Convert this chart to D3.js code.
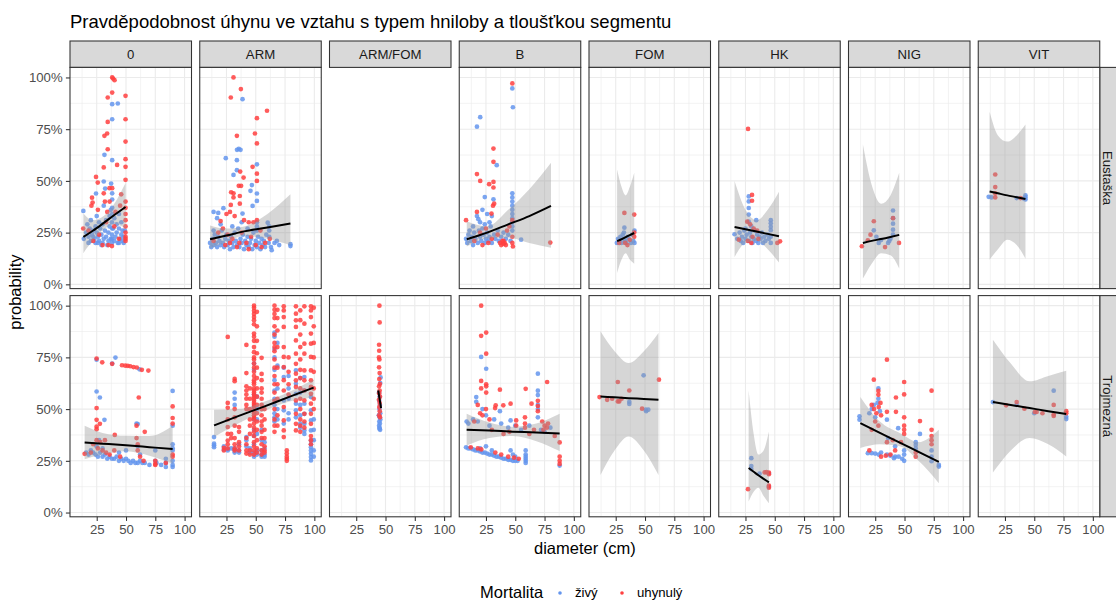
<!DOCTYPE html>
<html><head><meta charset="utf-8">
<script src="https://cdn.jsdelivr.net/npm/d3@7"></script>
<style>body{margin:0;background:#fff} text{font-family:"Liberation Sans",Arial,sans-serif}</style>
</head><body><svg id="c" width="1116" height="602"></svg>
<script>
const rows = ["Eustaška","Trojmezná"];
const cols = ["0","ARM","ARM/FOM","B","FOM","HK","NIG","VIT"];
const xTicks = [25,50,75,100];
const xMinor = [12.5,37.5,62.5,87.5];
const yTicks = [0,0.25,0.5,0.75,1];
const yTickLabels = ["0%","25%","50%","75%","100%"];
const yMinor = [0.125,0.375,0.625,0.875];
const legendTitle = "Mortalita";
const legendLabels = ["živý","uhynulý"];
const titleText = "Pravděpodobnost úhynu ve vztahu s typem hniloby a tloušťkou segmentu";
const xTitle = "diameter (cm)";
const yTitle = "probability";

// ---- Eustaška ----
const E0_z = [[38.2,.871],[43,.874],[38.2,.798],[31.6,.626],[38.2,.6],[31,.497],[37.3,.487],[32.2,.463],[24.4,.439],[38.2,.44],[13.6,.355],[31,.38],[38.2,.41],[37,.36],[25,.33],[14,.22],[16,.25],[18,.23],[19,.27],[20,.21],[21,.24],[22,.26],[23,.22],[24,.2],[25,.25],[26,.23],[27,.21],[28,.27],[29,.24],[30,.2],[31,.22],[32,.26],[33,.23],[34,.19],[35,.25],[36,.28],[37,.22],[38,.2],[38,.24],[38,.3],[39,.27],[40,.21],[41,.23],[42,.25],[43,.2],[44,.27],[45,.22],[46,.24],[47,.21],[48,.23],[49,.26],[17,.29],[20,.31],[27,.3],[33,.31],[36,.33],[40,.32],[42,.29],[44,.34],[46,.3],[48,.2],[18,.2],[24,.28],[30,.29],[38.2,.34],[38.2,.37],[38.2,.27],[38.2,.22],[35,.21],[29,.19],[26,.2],[22,.23],[44,.2],[47,.26]];
const E0_u = [[38.2,1],[40.2,.987],[39,.995],[49.6,.911],[38.2,.927],[34.4,.903],[49.6,.798],[34.4,.785],[31.6,.718],[33.9,.729],[49.6,.69],[34.4,.653],[49.6,.605],[42.4,.577],[31,.565],[49.6,.568],[49.6,.505],[24.4,.519],[25.9,.492],[35.9,.465],[38.2,.465],[45.9,.435],[31,.44],[21,.419],[21.5,.395],[20.5,.38],[13.5,.27],[26,.36],[32,.4],[36,.4],[34,.35],[45,.38],[49.6,.4],[49.6,.37],[49.6,.34],[49.6,.31],[49.6,.28],[49.6,.25],[49.6,.23],[49.6,.21],[49.6,.22],[30,.19],[35,.19],[38,.185],[22,.21],[27,.24],[33,.3],[40,.28],[44,.22],[18,.26],[41,.35]];
const E0_s = [[13.6,.229,.15,.343],[22,.26,.215,.31],[31,.297,.265,.33],[40,.335,.29,.39],[49.6,.374,.27,.49]];

const EARM_z = [[38.7,.895],[34,.65],[35.5,.655],[37,.65],[24.4,.61],[33.9,.6],[51,.58],[33.9,.552],[31,.529],[46.7,.48],[45.5,.452],[51,.439],[51,.403],[47.3,.379],[22.4,.368],[14,.35],[18,.345],[38.7,.342],[60.2,.298],[79.6,.194],[79.6,.185],[63.6,.165],[66,.2],[70,.19],[68,.21],[11,.2],[12,.18],[13,.22],[14,.19],[15,.24],[16,.2],[17,.18],[18,.23],[19,.21],[20,.19],[21,.26],[22,.2],[23,.18],[24,.22],[25,.24],[26,.19],[27,.21],[28,.17],[29,.23],[30,.2],[31,.18],[32,.25],[33,.21],[34,.19],[35,.27],[36,.18],[37,.22],[38,.2],[39,.24],[40,.17],[41,.21],[42,.19],[43,.23],[44,.18],[45,.2],[46,.22],[47,.17],[48,.25],[49,.19],[50,.21],[51,.18],[52,.23],[53,.2],[54,.17],[55,.22],[56,.19],[57,.21],[58,.18],[59,.24],[61,.2],[63,.18],[51,.28],[51,.26],[51,.3],[38,.3],[30,.28],[20,.29],[43,.27],[14,.26],[17,.32],[61.5,.26],[61.5,.28],[61.5,.23]];
const EARM_u = [[31,1],[37.3,.944],[28.7,.903],[59.6,.839],[51,.803],[49.3,.729],[51,.681],[33.9,.718],[47.3,.568],[36.7,.545],[51,.535],[39.6,.516],[51,.5],[35.5,.476],[37.5,.476],[31,.44],[29,.445],[36.4,.427],[31,.42],[36.4,.39],[28.7,.384],[28,.35],[25,.34],[20,.306],[44,.3],[51,.31],[32,.33],[40,.31],[22,.27],[26,.24],[30,.22],[34,.18],[38,.25],[42,.2],[46,.23],[50,.19],[54,.26],[58,.2],[62,.22],[24,.19],[18,.25],[14,.21],[36,.2],[44,.17],[48,.3],[55,.18],[28,.2]];
const EARM_s = [[11,.218,.174,.285],[25,.236,.205,.27],[40,.256,.235,.28],[60,.275,.22,.34],[79.6,.294,.189,.435]];

const EB_z = [[47.5,.947],[48,.856],[20.1,.808],[17.3,.762],[34.2,.576],[24,.422],[31.4,.411],[47.5,.44],[47.5,.42],[47.5,.4],[47.5,.38],[47.5,.36],[47.5,.34],[47.5,.32],[47.5,.3],[47.5,.28],[47.5,.26],[17.3,.33],[18.5,.315],[55,.216],[8,.22],[9,.2],[10,.24],[12,.21],[13,.23],[14,.19],[15,.25],[16,.22],[18,.2],[19,.26],[20,.23],[21,.21],[22,.27],[23,.24],[24,.2],[25,.22],[26,.25],[27,.21],[28,.23],[29,.28],[30,.2],[32,.24],[33,.22],[35,.26],[36,.21],[38,.23],[40,.25],[42,.22],[44,.24],[46,.21],[20,.3],[24,.29],[28,.3],[14,.28],[11,.26],[26,.34],[30,.33],[22,.36]];
const EB_u = [[47.5,.971],[31.4,.656],[31.4,.592],[17.3,.533],[20.1,.5],[27.7,.484],[31.4,.495],[31.4,.468],[31,.38],[32,.39],[29.7,.342],[8,.31],[17.3,.35],[79.9,.202],[48,.183],[37,.2],[38,.19],[39,.21],[40,.195],[41,.2],[42,.19],[40,.21],[20,.25],[25,.27],[30,.22],[35,.24],[45,.28],[47.5,.31],[47.5,.23],[15,.21],[22,.19],[43,.26],[27,.2],[47.5,.2]];
const EB_s = [[8.6,.218,.183,.305],[26,.25,.222,.28],[44,.29,.225,.36],[62,.33,.2,.46],[80.5,.379,.177,.588]];

const EFOM_z = [[32.4,.274],[26,.2],[27,.22],[28,.21],[29,.23],[30,.2],[31,.24],[32,.22],[33,.21],[34,.2],[35,.23],[36,.22],[38,.2],[39,.24],[40,.21],[41,.2],[32,.25],[41,.26]];
const EFOM_u = [[32.4,.345],[40.8,.337],[28,.2],[33,.2],[37,.215],[40.8,.23],[40.8,.25],[35,.19]];
const EFOM_s = [[26.2,.209,.055,.555],[30,.218,.12,.47],[33.5,.228,.15,.43],[37,.238,.12,.47],[40.8,.248,.1,.539]];

const EHK_z = [[27.8,.425],[27.8,.401],[27.8,.369],[27.8,.337],[27.8,.303],[34.2,.31],[46.6,.31],[46.6,.295],[46.6,.278],[46.6,.262],[15.7,.242],[18,.22],[20,.25],[21,.21],[22,.23],[23,.2],[24,.26],[25,.22],[26,.24],[28,.21],[29,.25],[30,.23],[31,.2],[32,.22],[33,.26],[34,.21],[35,.24],[36,.2],[37,.23],[38,.22],[39,.25],[40,.2],[41,.23],[42,.21],[44,.24],[45,.22],[46.6,.2],[46.6,.23],[30,.28],[25,.27]];
const EHK_u = [[27.2,.751],[30.6,.432],[30.6,.404],[26.5,.303],[29,.29],[32,.27],[52.2,.2],[54.5,.208],[19.4,.216],[27,.21],[30,.2],[35,.26],[36,.22],[31,.23]];
const EHK_s = [[15.7,.277,.132,.5],[25,.266,.2,.36],[34.5,.255,.21,.31],[44,.244,.17,.36],[53.6,.232,.105,.447]];

const ENIG_z = [[23.8,.261],[28,.2],[30,.214],[36,.2],[40.2,.357],[40.2,.32],[40.2,.293],[40.2,.264],[40.2,.241],[37,.21],[38,.22],[26,.23]];
const ENIG_u = [[13.6,.184],[18.7,.213],[23.8,.305],[33.4,.18],[40.2,.32],[45.3,.2],[21,.24]];
const ENIG_s = [[14.5,.2,.028,.676],[22,.21,.1,.48],[30,.219,.15,.39],[38,.229,.14,.43],[45.5,.239,.076,.539]];

const EVIT_z = [[11.1,.423],[13.5,.42],[35,.417],[42.5,.43],[42.5,.42],[42.5,.41],[41,.415]];
const EVIT_u = [[16.7,.531],[16.7,.47],[16.7,.44],[16.7,.42],[38.3,.417]];
const EVIT_s = [[11.9,.449,.119,.834],[19,.44,.17,.72],[27,.43,.216,.69],[35,.421,.19,.72],[42.5,.412,.124,.772]];

// ---- Trojmezná ----
const T0_z = [[24.9,.739],[41,.749],[38.2,.72],[61.5,.692],[24.9,.585],[27.7,.556],[31.6,.448],[59,.43],[60,.428],[89.8,.588],[89.8,.42],[89.8,.311],[89.8,.33],[89.8,.3],[16,.29],[18,.28],[20,.3],[22,.29],[24,.28],[26,.27],[28,.29],[30,.27],[32,.28],[34,.26],[36,.27],[38,.26],[40,.26],[42,.27],[44,.25],[46,.26],[48,.25],[50,.26],[52,.25],[54,.24],[56,.25],[58,.24],[60,.24],[62,.25],[64,.24],[66,.24],[70,.23],[75,.25],[76,.24],[80,.23],[84,.22],[84,.24],[89.8,.23],[89.8,.22],[89.8,.25],[24.9,.32],[27,.35],[30,.31],[60,.32],[62,.28],[75,.3],[84,.26],[50,.3],[44,.29]];
const T0_u = [[14.7,.284],[24.9,.744],[29.7,.726],[38.2,.719],[46.6,.712],[49.4,.71],[51.5,.709],[53.6,.707],[56.4,.703],[59.2,.701],[63.5,.69],[69.1,.686],[24.9,.505],[24.9,.448],[24.9,.415],[24.9,.403],[27.7,.429],[40.4,.375],[60.9,.556],[59,.42],[66,.39],[89.8,.513],[89.8,.457],[89.8,.43],[89.8,.28],[89.8,.27],[22,.33],[24.9,.35],[26,.31],[28,.34],[30,.3],[33,.29],[36,.28],[40,.3],[45,.27],[59,.36],[60,.33],[60,.3],[62,.27],[65,.25],[75,.23],[75,.235],[75,.25],[84,.24],[20,.29],[32,.35]];
const T0_s = [[14.7,.339,.258,.419],[30,.333,.28,.385],[50,.325,.296,.371],[70,.316,.275,.37],[89.8,.307,.236,.42]];

// ARM (Trojmezná): columns [diameter, [probabilities]]
const TARM_zCols = [[14.4,[.365,.333,.325,.316]],[22.8,[.32,.305]],[26.1,[.307,.3]],[29,[.31]],[32,[.58,.55,.52,.3,.29,.31]],[35.7,[.33,.3,.29]],[42,[.365,.35,.32]],[45,[.31,.29]],[48.5,[.72,.69,.57,.51,.45,.4,.37,.33,.29,.27]],[51,[.56,.5,.45,.38,.3,.28]],[55,[.4,.35,.3,.28,.27]],[57.5,[.34,.31,.28,.27]],[66,[.87,.85,.79,.75,.69,.64,.59,.55,.52,.48,.46,.44]],[68.5,[.82,.71,.6,.5,.45]],[73.9,[.7,.655,.542,.494,.43]],[78,[.66,.6,.55,.48,.45]],[84.3,[.687,.623,.574,.526,.494,.46]],[88,[.65,.58,.52,.47,.43,.41]],[91.5,[.655,.59,.526,.477,.429,.397,.38]],[97.1,[.558,.494,.445,.397,.348,.316,.284,.268,.252,.3,.33]],[99.5,[.45,.4,.35,.3,.27]]];
const TARM_uCols = [[22.8,[.313,.3]],[26.1,[.849,.506,.413,.348,.45,.38,.33,.31,.53]],[29,[.38,.36]],[32,[.646,.635,.5,.46,.42,.36,.33,.3,.31]],[35.7,[.413,.39,.34,.32,.3]],[42,[.81,.674,.61,.59,.57,.55,.52,.5,.3,.285,.33,.36]],[45,[.6,.55,.5,.45,.42,.38,.3,.28]],[48.5,[1,.99,.975,.96,.945,.93,.91,.865,.85,.83,.8,.775,.75,.74,.72,.7,.68,.66,.64,.63,.62,.6,.59,.58,.57,.56,.55,.54,.53,.52,.51,.49,.48,.47,.46,.45,.43,.41,.39,.37,.34,.32,.3,.28]],[51,[.97,.9,.83,.77,.7,.65,.6,.56,.52,.48,.44,.4,.35,.31,.29]],[55,[.748,.67,.64,.6,.58,.55,.52,.5,.47,.44,.42,.39,.36,.33,.3,.28]],[57.5,[.5,.45,.4,.36,.32,.3,.29]],[66,[1,.98,.96,.94,.9,.86,.82,.8,.78,.74,.7,.66,.62,.58,.54,.5,.45,.42,.39]],[68.5,[.98,.94,.88,.8,.7,.62,.55,.47,.42]],[73.9,[.997,.977,.945,.897,.8,.752,.703,.64,.59,.51,.445,.397,.365]],[76.5,[.3,.285,.27,.26,.25]],[78,[.75,.68,.62,.57]],[84.3,[.997,.961,.929,.897,.832,.768,.719,.671,.639,.607,.542,.477,.429,.397]],[88,[.977,.93,.86,.8,.74,.69,.65,.6,.55,.5,.45,.42,.39]],[91.5,[.997,.913,.816,.768,.687,.639,.59,.542,.477,.44,.41]],[97.1,[.997,.977,.945,.865,.816,.752,.687,.639,.607,.574,.526,.477,.429,.37,.35,.33]],[99.5,[.99,.9,.82,.75,.68,.6,.55,.5]]];
const TARM_s = [[14.4,.421,.365,.497],[35,.466,.43,.5],[57,.512,.49,.535],[78,.558,.535,.582],[99.4,.604,.556,.643]];

const TAF_z = [[45.8,.653],[45.5,.626],[44.5,.58],[45,.56],[44.6,.54],[45.2,.52],[44.8,.5],[45.5,.48],[44.3,.47],[45,.46],[45.6,.45],[44.7,.44],[45.2,.43],[44.5,.42],[45,.41],[45.4,.4],[44.8,.405]];
const TAF_u = [[44.8,1],[45,.919],[44.5,.811],[44.6,.782],[44.4,.75],[44.8,.74],[44.5,.702],[45,.674],[44.7,.645],[45.2,.621],[44.5,.61],[45,.59],[44.6,.577],[45.3,.56],[44.4,.545],[45,.529],[44.7,.51],[45.1,.49],[44.6,.47],[45.3,.46]];
const TAF_s = [[43.8,.59,.56,.62],[46.2,.505,.475,.535]];

const TB_z = [[20.9,.752],[25.2,.695],[69.3,.671],[69.3,.589],[69.3,.568],[16.7,.558],[16.7,.535],[36.9,.49],[46,.445],[87.9,.227],[8.5,.44],[10,.43],[14,.45],[18,.44],[22,.5],[25,.47],[28,.42],[32,.45],[38,.43],[44,.41],[50,.42],[55,.4],[62,.42],[69.3,.46],[69.3,.5],[69.3,.52],[72,.4],[75,.39],[80,.41],[8,.315],[10,.31],[12,.31],[14,.305],[16,.3],[18,.3],[20,.295],[22,.29],[24,.29],[26,.285],[28,.28],[30,.28],[32,.275],[34,.27],[36,.27],[38,.265],[40,.26],[42,.26],[44,.255],[46,.255],[48,.25],[50,.25],[52,.25],[46,.3],[48,.28],[50,.27],[58.9,.3],[58.9,.28],[58.9,.27],[58.9,.26],[58.9,.25],[58.9,.24],[25,.32],[30,.3],[20,.31]];
const TB_u = [[20.9,1],[20.9,.854],[25.2,.87],[25.2,.768],[20.9,.636],[25.2,.62],[25.2,.61],[20.9,.6],[25.2,.58],[36.9,.594],[58.9,.598],[77.2,.631],[69.3,.54],[69.3,.515],[69.3,.49],[63.9,.526],[46,.526],[39.8,.518],[33.3,.518],[32.8,.505],[18,.52],[20,.48],[22,.47],[25,.5],[28,.45],[15,.44],[50.8,.445],[50.8,.42],[58.3,.46],[58.3,.43],[58.3,.41],[73,.44],[75,.42],[77,.41],[78,.43],[74,.4],[83.7,.37],[87.9,.339],[87.9,.27],[87.9,.25],[87.9,.235],[12,.315],[18,.31],[21,.305],[33,.29],[38,.28],[44,.27],[49,.265],[53,.26],[40,.38],[45,.39],[30,.4],[62,.38],[66,.4]];
const TB_s = [[8.5,.4,.324,.477],[28,.396,.36,.435],[48,.391,.37,.415],[68,.387,.345,.43],[87.9,.382,.297,.477]];

const TFOM_z = [[36.6,.535],[36.6,.525],[48.8,.663],[50.6,.497],[52.8,.497],[51,.49]];
const TFOM_u = [[11.2,.558],[17.7,.545],[26.8,.631],[26.8,.537],[28,.537],[36.6,.59],[47.5,.502],[61.9,.642],[30,.55],[22,.55]];
const TFOM_s = [[12,.561,.182,.876],[24,.557,.3,.78],[36,.553,.368,.723],[49,.549,.3,.78],[61.5,.545,.182,.868]];

const THK_z = [[30,.263],[30,.225],[30,.21],[37,.188],[45,.125],[45,.19]];
const THK_u = [[27.2,.113],[41.4,.194],[45,.193],[45,.185],[45,.13],[45,.12],[43,.195]];
const THK_s = [[27.7,.215,.053,.59],[32,.197,.1,.38],[36,.18,.12,.28],[40.5,.163,.08,.3],[45,.146,.045,.392]];

const TNIG_z = [[11.6,.465],[11.6,.449],[23.8,.52],[27.7,.55],[35,.449],[44.6,.408],[63.2,.38],[59.6,.327],[73.1,.248],[79.3,.222],[79.3,.23],[18.7,.287],[22,.287],[25,.285],[28,.28],[30,.29],[35,.28],[38,.275],[41,.263],[42,.27],[45,.27],[48,.26],[49.7,.28],[49.7,.3],[49.7,.25],[20,.48],[22,.5],[25,.46],[27,.53],[29,.49],[27.7,.6],[59.6,.34],[59.6,.31],[73.1,.3],[73.1,.27],[42,.32],[36,.36]];
const TNIG_u = [[35,.739],[23.8,.642],[49.7,.631],[27.7,.588],[27.7,.569],[49.7,.571],[42.7,.556],[73.1,.589],[35,.487],[42.7,.487],[63.2,.442],[49.7,.46],[49.7,.42],[49.7,.4],[49.7,.38],[73.1,.4],[73.1,.37],[73.1,.35],[73.1,.33],[59.6,.29],[59.6,.27],[22,.52],[24,.5],[26,.48],[28,.51],[30,.47],[25,.44],[27.7,.42],[22,.4],[30,.27],[34,.275],[38,.28],[42,.3],[35,.34],[40,.35],[47,.34],[20,.3],[29.5,.53]];
const TNIG_s = [[12.3,.432,.312,.559],[29,.385,.33,.44],[46,.338,.32,.384],[62,.293,.25,.34],[79.3,.245,.142,.4]];

const TVIT_z = [[14.7,.534],[35,.52],[66.6,.589],[77.3,.463],[77.3,.452],[50,.48]];
const TVIT_u = [[26,.518],[35,.534],[41.6,.502],[50.5,.486],[52,.486],[57,.48],[66.6,.52],[66.6,.474],[66.6,.467],[77.3,.49],[77.3,.48]];
const TVIT_s = [[14.7,.534,.193,.835],[30,.52,.3,.72],[46,.505,.36,.634],[62,.49,.33,.66],[77.3,.476,.271,.685]];

const flatCols = c => c.flatMap(([d, ps]) => ps.map(p => [d, p]));

const panels = [
  {r:0,c:0,z:E0_z,u:E0_u,s:E0_s},
  {r:0,c:1,z:EARM_z,u:EARM_u,s:EARM_s},
  {r:0,c:2,empty:true},
  {r:0,c:3,z:EB_z,u:EB_u,s:EB_s},
  {r:0,c:4,z:EFOM_z,u:EFOM_u,s:EFOM_s},
  {r:0,c:5,z:EHK_z,u:EHK_u,s:EHK_s},
  {r:0,c:6,z:ENIG_z,u:ENIG_u,s:ENIG_s},
  {r:0,c:7,z:EVIT_z,u:EVIT_u,s:EVIT_s},
  {r:1,c:0,z:T0_z,u:T0_u,s:T0_s},
  {r:1,c:1,z:flatCols(TARM_zCols),u:flatCols(TARM_uCols),s:TARM_s},
  {r:1,c:2,z:TAF_z,u:TAF_u,s:TAF_s},
  {r:1,c:3,z:TB_z,u:TB_u,s:TB_s},
  {r:1,c:4,z:TFOM_z,u:TFOM_u,s:TFOM_s},
  {r:1,c:5,z:THK_z,u:THK_u,s:THK_s},
  {r:1,c:6,z:TNIG_z,u:TNIG_u,s:TNIG_s},
  {r:1,c:7,z:TVIT_z,u:TVIT_u,s:TVIT_s}
];

// ---- layout ----
const left0 = 70, pw = 121.5, gapX = 8.25;
const stripTop = 41, stripH = 26.4;
const rowTops = [67.4, 295.6], ph = 221.2;
const colBlue = "#6495ED", colRed = "#FF4040";

const svg = d3.select("#c");
const x = d3.scaleLinear().domain([2.2, 105.9]).range([0, pw]);
const y = d3.scaleLinear().domain([-0.0206, 1.0486]).range([ph, 0]);

svg.append("text").attr("x", 70).attr("y", 28).attr("font-size", 18.5).attr("fill", "#000").text(titleText);

cols.forEach((c, i) => {
  const gx = left0 + i * (pw + gapX);
  svg.append("rect").attr("x", gx).attr("y", stripTop).attr("width", pw).attr("height", stripH)
    .attr("fill", "#D9D9D9").attr("stroke", "#333333").attr("stroke-width", 1.07);
  svg.append("text").attr("x", gx + pw / 2).attr("y", stripTop + stripH / 2).attr("dy", "0.35em")
    .attr("text-anchor", "middle").attr("font-size", 13.2).attr("fill", "#1A1A1A").text(c);
});
const rightX = left0 + 8 * pw + 7 * gapX;
rows.forEach((r, j) => {
  svg.append("rect").attr("x", rightX).attr("y", rowTops[j]).attr("width", 26.4).attr("height", ph)
    .attr("fill", "#D9D9D9").attr("stroke", "#333333").attr("stroke-width", 1.07);
  svg.append("text").attr("transform", `translate(${rightX + 3.5},${rowTops[j] + ph / 2}) rotate(90)`)
    .attr("text-anchor", "middle").attr("font-size", 13.2).attr("fill", "#1A1A1A").text(r);
});

const lineFn = d3.line().x(d => x(d[0])).y(d => y(d[1])).curve(d3.curveMonotoneX);
const areaFn = d3.area().x(d => x(d[0])).y0(d => y(d[2])).y1(d => y(d[3])).curve(d3.curveMonotoneX);

panels.forEach(P => {
  const gx = left0 + P.c * (pw + gapX), gy = rowTops[P.r];
  const g = svg.append("g").attr("transform", `translate(${gx},${gy})`);
  if (P.empty) return;
  g.append("rect").attr("width", pw).attr("height", ph).attr("fill", "#fff");
  const clipId = `clip${P.r}_${P.c}`;
  g.append("clipPath").attr("id", clipId).append("rect").attr("width", pw).attr("height", ph);
  const gg = g.append("g").attr("clip-path", `url(#${clipId})`);
  gg.selectAll(".vm").data(xMinor).join("line").attr("x1", d => x(d)).attr("x2", d => x(d)).attr("y1", 0).attr("y2", ph).attr("stroke", "#EBEBEB").attr("stroke-width", 0.6);
  gg.selectAll(".hm").data(yMinor).join("line").attr("y1", d => y(d)).attr("y2", d => y(d)).attr("x1", 0).attr("x2", pw).attr("stroke", "#EBEBEB").attr("stroke-width", 0.6);
  gg.selectAll(".vM").data(xTicks).join("line").attr("x1", d => x(d)).attr("x2", d => x(d)).attr("y1", 0).attr("y2", ph).attr("stroke", "#EBEBEB").attr("stroke-width", 1.1);
  gg.selectAll(".hM").data(yTicks).join("line").attr("y1", d => y(d)).attr("y2", d => y(d)).attr("x1", 0).attr("x2", pw).attr("stroke", "#EBEBEB").attr("stroke-width", 1.1);
  gg.append("g").selectAll("circle").data(P.z).join("circle").attr("cx", d => x(d[0])).attr("cy", d => y(d[1])).attr("r", 2.35).attr("fill", colBlue).attr("fill-opacity", 0.85);
  gg.append("g").selectAll("circle").data(P.u).join("circle").attr("cx", d => x(d[0])).attr("cy", d => y(d[1])).attr("r", 2.35).attr("fill", colRed).attr("fill-opacity", 0.85);
  gg.append("path").datum(P.s).attr("d", areaFn).attr("fill", "#999999").attr("fill-opacity", 0.4);
  gg.append("path").datum(P.s).attr("d", lineFn).attr("fill", "none").attr("stroke", "#000").attr("stroke-width", 2);
  g.append("rect").attr("width", pw).attr("height", ph).attr("fill", "none").attr("stroke", "#333333").attr("stroke-width", 1.07);
  if (P.c === 0) {
    const ax = g.append("g").call(d3.axisLeft(y).tickValues(yTicks).tickFormat((d, i) => yTickLabels[i]).tickSize(4.1).tickPadding(3.3));
    ax.select(".domain").remove();
    ax.selectAll("line").attr("stroke", "#333333").attr("stroke-width", 1.07);
    ax.selectAll("text").attr("font-size", 13.2).attr("fill", "#4D4D4D").attr("font-family", "Liberation Sans, Arial, sans-serif");
  }
  if (P.r === 1) {
    const ax = g.append("g").attr("transform", `translate(0,${ph})`).call(d3.axisBottom(x).tickValues(xTicks).tickSize(4.1).tickPadding(3.3));
    ax.select(".domain").remove();
    ax.selectAll("line").attr("stroke", "#333333").attr("stroke-width", 1.07);
    ax.selectAll("text").attr("font-size", 13.2).attr("fill", "#4D4D4D").attr("font-family", "Liberation Sans, Arial, sans-serif");
  }
});

svg.append("text").attr("x", (left0 + rightX) / 2).attr("y", 554).attr("text-anchor", "middle").attr("font-size", 16.5).attr("fill", "#000").text(xTitle);
svg.append("text").attr("transform", `translate(21,${(rowTops[0] + rowTops[1] + ph) / 2}) rotate(-90)`).attr("text-anchor", "middle").attr("font-size", 16.5).attr("fill", "#000").text(yTitle);

// legend
svg.append("text").attr("x", 480).attr("y", 598).attr("font-size", 16.5).attr("fill", "#000").text(legendTitle);
const legendColors = [colBlue, colRed];
const legendX = [560, 622];
legendLabels.forEach((l, i) => {
  svg.append("circle").attr("cx", legendX[i]).attr("cy", 593).attr("r", 1.8).attr("fill", legendColors[i]);
  svg.append("text").attr("x", legendX[i] + 15).attr("y", 597).attr("font-size", 13.2).attr("fill", "#000").text(l);
});
</script></body></html>
